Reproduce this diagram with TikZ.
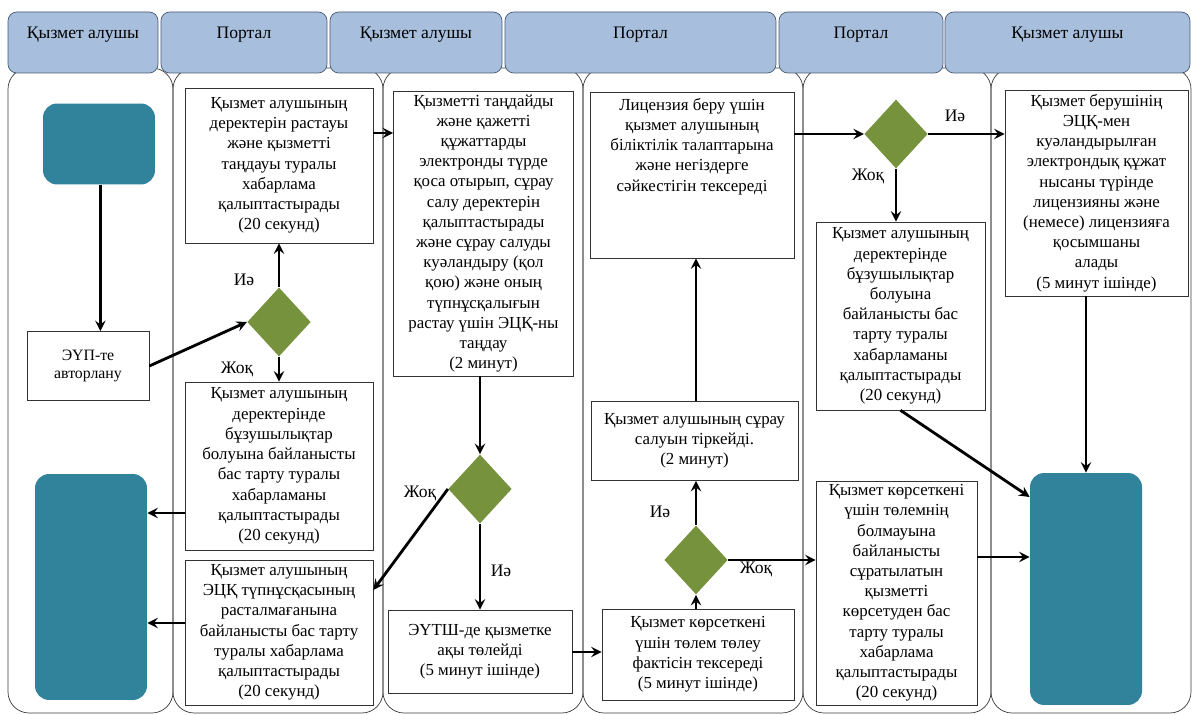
\documentclass[tikz,border=0pt]{standalone}
\usepackage{fontspec}
\setmainfont{Liberation Serif}
\definecolor{HeadColor}{RGB}{167,191,221}
\definecolor{HeadLine}{RGB}{70,88,112}
\definecolor{LaneLine}{RGB}{60,60,60}
\definecolor{TermColor}{RGB}{49,131,155}
\definecolor{GateColor}{RGB}{118,146,60}
\usepackage{tikz}
\usetikzlibrary{positioning, arrows.meta, shapes.geometric}
\tikzstyle{arrow} = [line width=1.6pt, black, ->, >=stealth]
\tikzstyle{lane} = [draw=LaneLine, thin, rounded corners=12pt]
\tikzstyle{head} = [draw=HeadLine, fill=HeadColor, rounded corners=5pt, align=center, inner sep=0pt, font=\fontsize{10}{11.4}\selectfont]
\tikzstyle{stepbox} = [draw=black!80, fill=white, thin, align=center, inner sep=2pt, font=\fontsize{9.6}{11.5}\selectfont]
\tikzstyle{term} = [fill=TermColor, rounded corners=8pt, inner sep=0pt]
\tikzstyle{gate} = [diamond, fill=GateColor, inner sep=0pt, minimum width=1.27cm, minimum height=1.38cm]
\tikzstyle{answer} = [font=\fontsize{10}{12}\selectfont]

\begin{document}
\begin{tikzpicture}[x=0.02cm, y=-0.02cm]
    \useasboundingbox (0,0) rectangle (1197,715);

    % swimlanes
    \draw[lane] (8,68) rectangle (173,713);
    \draw[lane] (173,68) rectangle (383,713);
    \draw[lane] (383,68) rectangle (583,713);
    \draw[lane] (583,68) rectangle (803,713);
    \draw[lane] (803,68) rectangle (991,713);
    \draw[lane] (991,68) rectangle (1191,713);

    % lane headers
    \node[head, minimum width=3.0cm, minimum height=1.22cm] (h1) at (83,42.5) {Қызмет алушы\\~};
    \node[head, minimum width=3.32cm, minimum height=1.22cm] (h2) at (244,42.5) {Портал\\~};
    \node[head, minimum width=3.44cm, minimum height=1.22cm] (h3) at (416,42.5) {Қызмет алушы\\~};
    \node[head, minimum width=5.42cm, minimum height=1.22cm] (h4) at (640.5,42.5) {Портал\\~};
    \node[head, minimum width=3.28cm, minimum height=1.22cm] (h5) at (861,42.5) {Портал\\~};
    \node[head, minimum width=4.9cm, minimum height=1.22cm] (h6) at (1067.5,42.5) {Қызмет алушы\\~};

    % service receiver, first lane
    \node[term, minimum width=2.24cm, minimum height=1.62cm] (start) at (99,144) {};
    \node[stepbox, minimum width=2.44cm, minimum height=1.38cm, font=\fontsize{9}{10.3}\selectfont] (auth) at (88,366) {ЭҮП-те\\авторлану};
    \node[term, minimum width=2.24cm, minimum height=4.52cm] (fin1) at (91,587) {};

    % portal, second lane
    \node[stepbox, minimum width=3.76cm, minimum height=3.1cm] (confirm) at (279,165.5) {Қызмет алушының\\деректерін растауы\\және қызметті\\таңдауы туралы\\хабарлама\\қалыптастырады\\(20 секунд)};
    \node[gate] (chk1) at (279,322) {};
    \node[stepbox, minimum width=3.76cm, minimum height=3.36cm] (deny1) at (279,466) {Қызмет алушының\\деректерінде\\бұзушылықтар\\болуына байланысты\\бас тарту туралы\\хабарламаны\\қалыптастырады\\(20 секунд)};
    \node[stepbox, minimum width=3.76cm, minimum height=2.9cm] (deny2) at (279,632.5) {Қызмет алушының\\ЭЦҚ түпнұсқасының\\расталмағанына\\байланысты бас тарту\\туралы хабарлама\\қалыптастырады\\(20 секунд)};
    \node[answer] (yes1) at (244,280) {Иә};
    \node[answer] (no1) at (237,369) {Жоқ};

    % service receiver, third lane
    \node[stepbox, minimum width=3.6cm, minimum height=5.7cm] (request) at (483.5,233.5) {Қызметті таңдайды\\және қажетті\\құжаттарды\\электронды түрде\\қоса отырып, сұрау\\салу деректерін\\қалыптастырады\\және сұрау салуды\\куәландыру (қол\\қою) және оның\\түпнұсқалығын\\растау үшін ЭЦҚ-ны\\таңдау\\(2 минут)};
    \node[gate] (chk2) at (480,489) {};
    \node[stepbox, minimum width=3.68cm, minimum height=1.66cm] (pay) at (480,651.5) {ЭҮТШ-де қызметке\\ақы төлейді\\(5 минут ішінде)};
    \node[answer] (no2) at (420,493) {Жоқ};
    \node[answer] (yes2) at (501,571) {Иә};

    % portal, fourth lane
    \node[stepbox, minimum width=4.08cm, minimum height=3.32cm] (verify) at (692,175) {Лицензия беру үшін\\қызмет алушының\\біліктілік талаптарына\\және негіздерге\\сәйкестігін тексереді\\~\\~\\~};
    \node[stepbox, minimum width=4.14cm, minimum height=1.58cm] (register) at (694.5,441) {Қызмет алушының сұрау\\салуын тіркейді.\\(2 минут)};
    \node[gate] (chk3) at (696,560) {};
    \node[stepbox, minimum width=3.84cm, minimum height=1.82cm] (paycheck) at (698,654.5) {Қызмет көрсеткені\\үшін төлем төлеу\\фактісін тексереді\\(5 минут ішінде)};
    \node[answer] (yes3) at (660,512) {Иә};
    \node[answer] (no3) at (756,569) {Жоқ};

    % portal, fifth lane
    \node[gate] (chk4) at (896,134) {};
    \node[stepbox, minimum width=3.38cm, minimum height=3.76cm] (deny3) at (900.5,316) {Қызмет алушының\\деректерінде\\бұзушылықтар\\болуына\\байланысты бас\\тарту туралы\\хабарламаны\\қалыптастырады\\(20 секунд)};
    \node[stepbox, minimum width=3.22cm, minimum height=4.48cm] (deny4) at (896.5,593) {Қызмет көрсеткені\\үшін төлемнің\\болмауына\\байланысты\\сұратылатын\\қызметті\\көрсетуден бас\\тарту туралы\\хабарлама\\қалыптастырады\\(20 секунд)};
    \node[answer] (yes4) at (955,116) {Иә};
    \node[answer] (no4) at (868,176) {Жоқ};

    % service receiver, sixth lane
    \node[stepbox, minimum width=3.66cm, minimum height=4.12cm] (licence) at (1096.5,193) {Қызмет берушінің\\ЭЦҚ-мен\\куәландырылған\\электрондық құжат\\нысаны түрінде\\лицензияны және\\(немесе) лицензияға\\қосымшаны\\алады\\(5 минут ішінде)};
    \node[term, minimum width=2.24cm, minimum height=4.64cm] (fin2) at (1086,589) {};

    % connectors
    \draw[arrow] (start.south -| auth.north east) ++(-49,0) coordinate (s0) -- (s0 |- auth.north);
    \draw[arrow] (auth.east) -- (chk1.west);
    \draw[arrow] (chk1.north) -- (confirm.south);
    \draw[arrow] (chk1.south) -- (deny1.north);
    \draw[arrow] (deny1.west |- 0,513) -- (fin1.east |- 0,513);
    \draw[arrow] (deny2.west |- 0,623) -- (fin1.east |- 0,623);
    \draw[arrow] (confirm.east |- 0,133) -- (request.west |- 0,133);
    \draw[arrow] (chk2.north |- request.south) -- (chk2.north);
    \draw[arrow] (chk2.west) -- (deny2.east |- 0,590);
    \draw[arrow] (chk2.south) -- (pay.north);
    \draw[arrow] (pay.east |- 0,652) -- (paycheck.west |- 0,652);
    \draw[arrow] (chk3.south |- paycheck.north) -- (chk3.south);
    \draw[arrow] (chk3.north) -- (chk3.north |- register.south);
    \draw[arrow] (chk3.north |- register.north) -- (chk3.north |- verify.south);
    \draw[arrow] (chk3.east) -- (deny4.west |- chk3.east);
    \draw[arrow] (verify.east |- chk4.west) -- (chk4.west);
    \draw[arrow] (chk4.east) -- (licence.west |- chk4.east);
    \draw[arrow] (chk4.south) -- (chk4.south |- deny3.north);
    \draw[arrow] (deny3.south) -- (fin2.west |- 0,497);
    \draw[arrow] (deny4.east |- 0,557) -- (fin2.west |- 0,557);
    \draw[arrow] (fin2.north |- licence.south) -- (fin2.north);
\end{tikzpicture}
\end{document}
